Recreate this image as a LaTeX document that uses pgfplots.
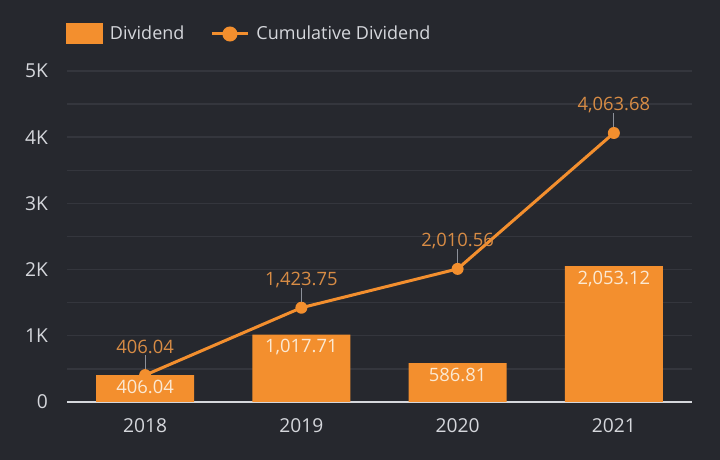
\documentclass[border=0pt]{standalone}
\usepackage{pgfplots}
\pgfplotsset{compat=1.18}
\usepackage{fontspec}
\setmainfont{Open Sans}

\definecolor{bg}{HTML}{26282E}
\definecolor{gridc}{HTML}{34363D}
\definecolor{bar}{HTML}{F38F2E}
\definecolor{linelab}{HTML}{D88C45}
\definecolor{barlab}{HTML}{FBE9D3}
\definecolor{tickc}{HTML}{D5D7DC}
\definecolor{leader}{HTML}{8C9099}

% circle with a short grey leader line above it
\pgfdeclareplotmark{dotpin}{%
  \pgfsetstrokecolor{leader}%
  \pgfsetlinewidth{0.6pt}%
  \pgfpathmoveto{\pgfpoint{0pt}{3pt}}%
  \pgfpathlineto{\pgfpoint{0pt}{10pt}}%
  \pgfusepath{stroke}%
  \pgfsetfillcolor{bar}%
  \pgfpathcircle{\pgfpoint{0pt}{0pt}}{3pt}%
  \pgfusepath{fill}%
}

\begin{document}
\begin{tikzpicture}
\fill[bg] (0,0) rectangle (360pt,230pt);
\begin{axis}[
  at={(33.5pt,29pt)}, anchor=south west,
  scale only axis,
  width=312.5pt, height=165.5pt,
  xmin=-0.5, xmax=3.5, ymin=0, ymax=5000,
  enlarge x limits=false,
  xtick={0,1,2,3},
  xticklabels={2018,2019,2020,2021},
  ytick={0,1000,2000,3000,4000,5000},
  yticklabels={0,1K,2K,3K,4K,5K},
  minor ytick={500,1500,2500,3500,4500},
  ymajorgrids, yminorgrids,
  grid style={gridc, line width=0.7pt},
  major tick length=0pt, minor tick length=0pt,
  axis x line=bottom, axis y line=left,
  x axis line style={draw=tickc, line width=1pt, -},
  y axis line style={draw=none},
  ticklabel style={font=\fontsize{9.6}{10}\selectfont, text=tickc},
  yticklabel style={xshift=-6pt},
  xticklabel style={yshift=-5pt},
  /pgf/number format/assume math mode=true,
  legend style={at={(rel axis cs:0,1)}, anchor=west, yshift=18.5pt, xshift=-0.5pt,
    draw=none, fill=none, inner sep=0pt, outer sep=0pt,
    font=\fontsize{9}{10}\selectfont, text=tickc,
    nodes={inner sep=0pt}, column sep=3.5pt,
    /tikz/column 2/.style={column sep=13pt}},
  legend columns=2,
]
\addplot[ybar, bar width=49pt, fill=bar, draw=none,
  nodes near coords,
  nodes near coords style={anchor=base, yshift=-9pt, text=barlab,
    font=\fontsize{9.2}{10}\selectfont,
    /pgf/number format/.cd, fixed, fixed zerofill, precision=2, 1000 sep={,}},
  legend image code/.code={\fill[bar] (0pt,-5.25pt) rectangle (18.5pt,5.25pt);}]
coordinates {(0,406.04) (1,1017.71) (2,586.81) (3,2053.12)};
\addlegendentry{Dividend}
\addplot[bar, line width=1.5pt, mark=dotpin,
  nodes near coords,
  nodes near coords style={anchor=base, yshift=11pt, text=linelab,
    font=\fontsize{9.2}{10}\selectfont,
    /pgf/number format/.cd, fixed, fixed zerofill, precision=2, 1000 sep={,}},
  legend image code/.code={\draw[bar, line width=1.5pt] (0pt,0pt) -- (18pt,0pt);
    \fill[bar] (9pt,0pt) circle (3pt);}]
coordinates {(0,406.04) (1,1423.75) (2,2010.56) (3,4063.68)};
\addlegendentry{Cumulative Dividend}
\end{axis}
\pgfresetboundingbox
\useasboundingbox (0,0) rectangle (360pt,230pt);
\end{tikzpicture}
\end{document}
